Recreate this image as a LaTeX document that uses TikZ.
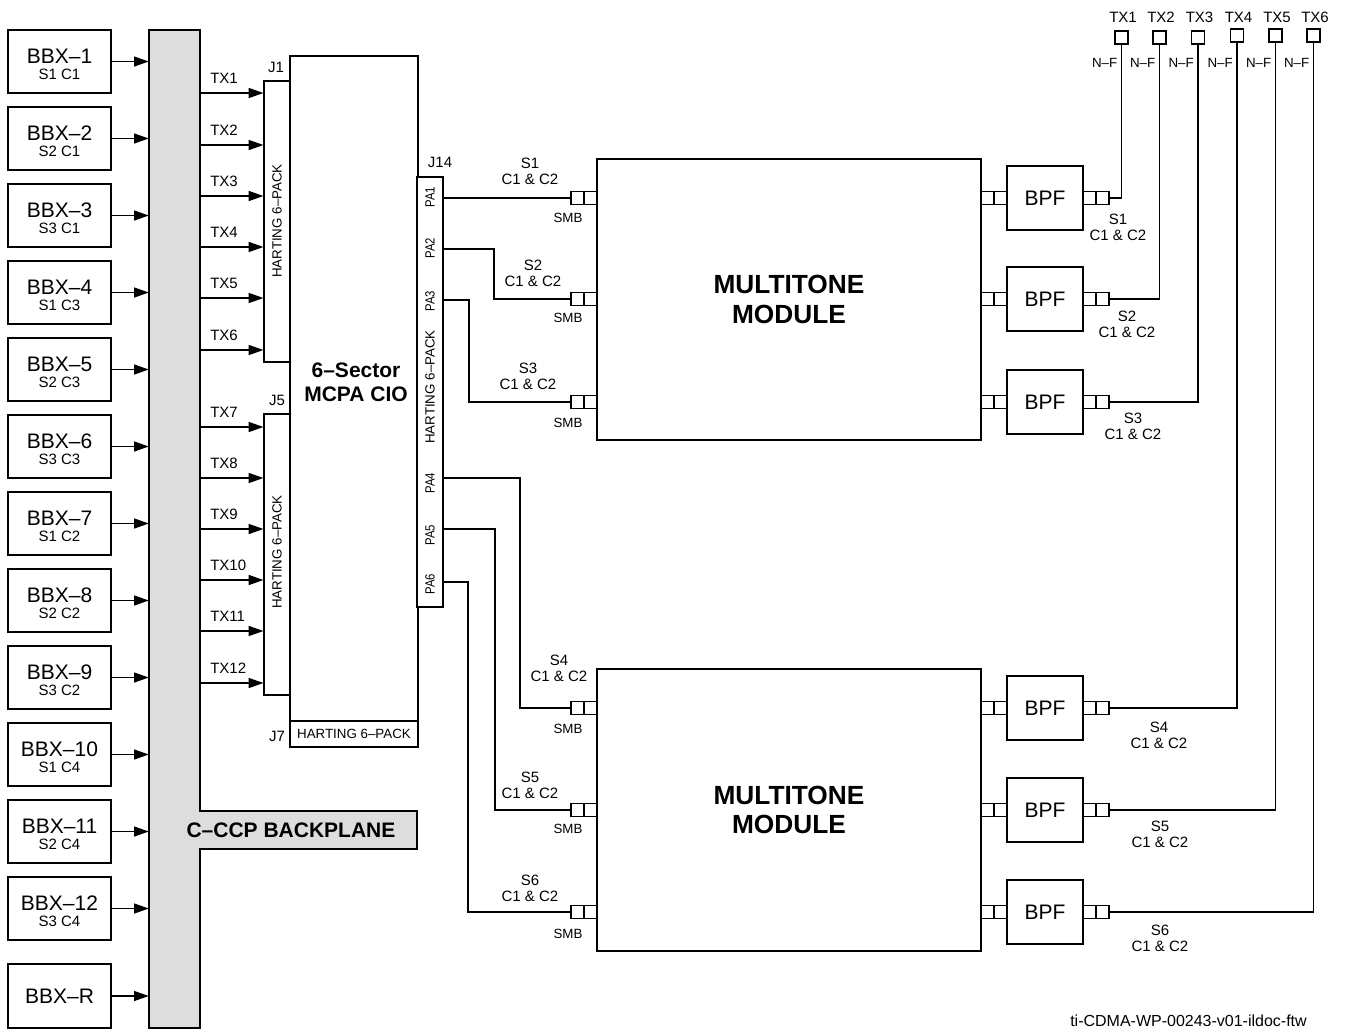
\documentclass[tikz,border=0pt]{standalone}
\usepackage{fontspec}
\setmainfont{Liberation Sans}
\usetikzlibrary{arrows.meta,calc}
\definecolor{bpgray}{HTML}{DDDDDD}
\newcommand\bigf{\fontsize{15.75}{17}\selectfont}
\newcommand\midf{\fontsize{11.25}{12}\selectfont}
\newcommand\smf{\fontsize{10}{11}\selectfont}
\newcommand\mybox[7]{\node[box,#6,minimum width={0.75pt*((#4)-(#2))},minimum height={0.75pt*((#5)-(#3))}] (#1) at ({((#2)+(#4))/2},{((#3)+(#5))/2}) {#7};}
\newcommand\conn[3]{\node[sq] (#1a) at ({#2+6.5},#3) {};\node[sq] (#1b) at ({#2+19.5},#3) {};}
\tikzset{
 box/.style={draw, line width=0.9pt, inner sep=0pt, fill=white, align=center},
 sq/.style={draw, line width=0.9pt, inner sep=0pt, minimum size=9.75pt, fill=white},
 wire/.style={line width=0.9pt},
 arr/.style={line width=0.9pt, -{Triangle[length=11pt,width=7.5pt]}},
 mid/.style={font=\midf, inner sep=0pt, align=center},
 tiny/.style={font=\smf, inner sep=0pt, align=center},
}
\begin{document}
\begin{tikzpicture}[x=0.75pt,y=-0.75pt]
\useasboundingbox (0,0) rectangle (1346,1032);
% backplane
\draw[line width=0.9pt, fill=bpgray] (149,30) -- (200,30) -- (200,811) -- (417,811) -- (417,849) -- (200,849) -- (200,1028) -- (149,1028) -- cycle;
\node[inner sep=0pt, minimum width={0.75pt*51}, minimum height={0.75pt*998}] (bp) at (174.5,529) {};
\node[font=\bfseries\bigf, inner sep=0pt] (bpl) at (291,830) {C–CCP BACKPLANE};
% BBX boxes
\foreach \i/\s [count=\k from 0] in {1/S1 C1, 2/S2 C1, 3/S3 C1, 4/S1 C3, 5/S2 C3, 6/S3 C3, 7/S1 C2, 8/S2 C2, 9/S3 C2, 10/S1 C4, 11/S2 C4, 12/S3 C4} {
  \pgfmathsetmacro\yt{30+77*\k}
  \mybox{bbx\i}{8}{\yt}{111}{\yt+63}{font=\midf}{{\bigf\rule{0pt}{15pt}BBX–\i}\\[0.5pt]\s}
  \draw[arr] (bbx\i.east) -- (bbx\i.east -| bp.west);
}
\mybox{bbxR}{8}{964}{111}{1028}{font=\bigf}{BBX–R}
\draw[arr] (bbxR.east) -- (bbxR.east -| bp.west);
% MCPA CIO
\mybox{mcpa}{290}{56}{418}{721}{}{}
\node[font=\bfseries\fontsize{15.75}{18}\selectfont, align=center, inner sep=0pt] (mcpat) at (356,382) {6–Sector\\MCPA CIO};
\mybox{J7}{290}{721}{418}{747}{font=\smf}{HARTING 6–PACK}
\mybox{J1}{264}{81}{290}{362}{}{}
\mybox{J5}{264}{414}{290}{695}{}{}
\mybox{J14}{417}{177}{443}{607}{}{}
\node[tiny, rotate=90] (h1) at (277,221) {HARTING 6–PACK};
\node[tiny, rotate=90] (h5) at (277,552) {HARTING 6–PACK};
\node[tiny, rotate=90] (h14) at (430,387) {HARTING 6–PACK};
\node[mid] (j1l) at (276,67) {J1};
\node[mid] (j5l) at (277,400) {J5};
\node[mid] (j14l) at (440,162) {J14};
\node[mid] (j7l) at (277,736) {J7};
% TX arrows
\foreach \t/\y in {1/93,2/145,3/196,4/247,5/298,6/350} {
  \draw[arr] (bp.east |- 0,\y) -- (J1.west |- 0,\y);
  \node[mid, anchor=west] (txl\t) at (210,\y-15) {TX\t};
}
\foreach \t/\y in {7/427,8/478,9/529,10/580,11/631,12/683} {
  \draw[arr] (bp.east |- 0,\y) -- (J5.west |- 0,\y);
  \node[mid, anchor=west] (txl\t) at (210,\y-15) {TX\t};
}
% PA labels and ports
\foreach \p/\ly/\y in {1/197/198,2/248/249,3/301/300,4/483/478,5/535/529,6/584/582} {
  \node[tiny, rotate=90] (pal\p) at (430,\ly) {\scalebox{0.85}[1]{PA\p}};
  \coordinate (pa\p) at (443,\y);
}
% modules
\mybox{mod1}{597}{159}{981}{440}{font=\bfseries\fontsize{19.7}{22}\selectfont}{MULTITONE\\MODULE}
\mybox{mod2}{597}{669}{981}{951}{font=\bfseries\fontsize{19.7}{22}\selectfont}{MULTITONE\\MODULE}
% connectors and filters
\foreach \n/\y in {1/198,2/299,3/402,4/708,5/810,6/912} {
  \conn{smb\n}{571}{\y}
  \conn{mo\n}{981}{\y}
  \conn{bo\n}{1083}{\y}
  \mybox{bpf\n}{1007}{\y-32}{1083}{\y+32}{font=\bigf}{BPF}
}
% SMB labels
\foreach \n/\y in {1/218,2/318,3/423,4/729,5/829,6/934} {
  \node[tiny] (smbl\n) at (568,\y) {SMB};
}
% PA wiring
\draw[wire] (pa1) -- (smb1a.west);
\draw[wire] (pa2) -- ++(51,0) |- (smb2a.west);
\draw[wire] (pa3) -- ++(26,0) |- (smb3a.west);
\draw[wire] (pa4) -- ++(77,0) |- (smb4a.west);
\draw[wire] (pa5) -- ++(52,0) |- (smb5a.west);
\draw[wire] (pa6) -- ++(25,0) |- (smb6a.west);
% sector labels left
\node[mid] (sl1) at (530,171) {S1\\C1 \& C2};
\node[mid] (sl2) at (533,273) {S2\\C1 \& C2};
\node[mid] (sl3) at (528,376) {S3\\C1 \& C2};
\node[mid] (sl4) at (559,668) {S4\\C1 \& C2};
\node[mid] (sl5) at (530,785) {S5\\C1 \& C2};
\node[mid] (sl6) at (530,888) {S6\\C1 \& C2};
% sector labels right
\node[mid] (sr1) at (1118,227.5) {S1\\C1 \& C2};
\node[mid] (sr2) at (1127,324) {S2\\C1 \& C2};
\node[mid] (sr3) at (1133,426.5) {S3\\C1 \& C2};
\node[mid] (sr4) at (1159,735) {S4\\C1 \& C2};
\node[mid] (sr5) at (1160,834.5) {S5\\C1 \& C2};
\node[mid] (sr6) at (1160,938) {S6\\C1 \& C2};
% antenna ports
\foreach \n/\x/\y in {1/1121.5/37.5,2/1159.5/37.5,3/1198/37.5,4/1237/35.5,5/1275.5/35.5,6/1313.5/35.5} {
  \node[sq] (ant\n) at (\x,\y) {};
  \node[mid] (antl\n) at (\x+1.5,17) {TX\n};
  \node[tiny, anchor=east] (nf\n) at (\x-4,63) {N–F};
  \draw[wire] (bo\n b.east) -| (ant\n.south);
}
% footer
\node[font=\fontsize{12}{14}\selectfont, anchor=west, inner sep=0pt] (foot) at (1070,1021) {ti-CDMA-WP-00243-v01-ildoc-ftw};
\end{tikzpicture}
\end{document}
